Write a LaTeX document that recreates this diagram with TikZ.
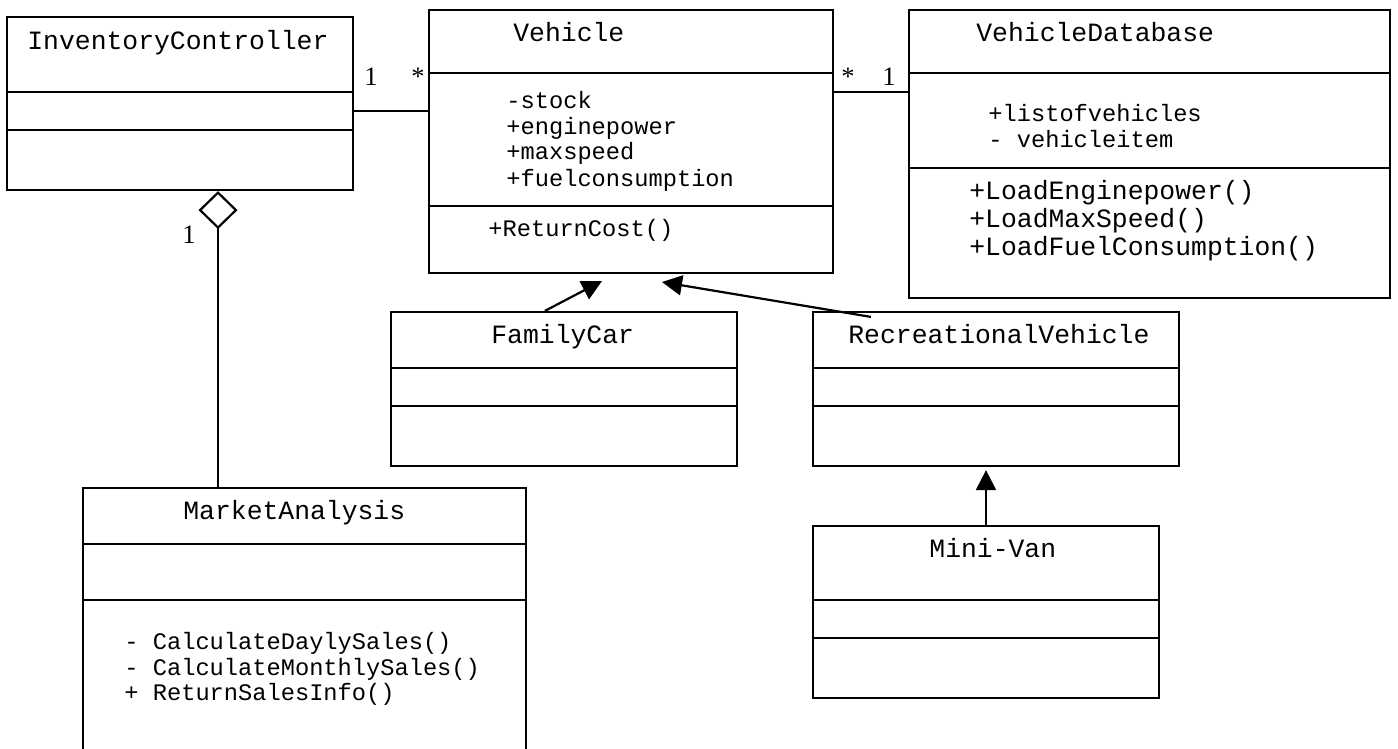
\documentclass[tikz,border=0pt]{standalone}
\usepackage{fontspec}
\setmainfont{Liberation Serif}
\setmonofont{Liberation Mono}
\usetikzlibrary{arrows.meta,fit,calc}

\tikzset{
  umlbox/.style={draw, line width=1.1pt, inner sep=0pt},
  sep/.style={line width=1.1pt},
  conn/.style={line width=1.1pt},
  inherit/.style={conn, -{Triangle[length=10pt,width=10pt]}},
  aggr/.style={conn, -{Diamond[open,length=19pt,width=19.5pt]}},
  big/.style={font=\fontsize{13.2}{14.25}\selectfont\ttfamily, anchor=base west, inner sep=0pt},
  small/.style={font=\fontsize{11.85}{12.85}\selectfont\ttfamily, anchor=base west, inner sep=0pt},
  mult/.style={font=\fontsize{13.3}{14}\selectfont, anchor=base west, inner sep=0pt},
}

\begin{document}
\begin{tikzpicture}[x=0.5pt, y=-0.5pt]
\useasboundingbox (0,0) rectangle (1398,749);
\clip (0,0) rectangle (1398,749);
\fill[white] (0,0) rectangle (1398,749);

% InventoryController
\node[umlbox, fit={(7,17) (353,190)}] (ic) {};
\draw[sep] (ic.west |- 0,92) -- (ic.east |- 0,92);
\draw[sep] (ic.west |- 0,130) -- (ic.east |- 0,130);
\node[big] (icT) at (27,50) {InventoryController};

% Vehicle
\node[umlbox, fit={(429,10) (833,273)}] (veh) {};
\draw[sep] (veh.west |- 0,73) -- (veh.east |- 0,73);
\draw[sep] (veh.west |- 0,206) -- (veh.east |- 0,206);
\node[big] (vehT) at (513,42) {Vehicle};
\node[small] (vehA1) at (506,109) {-stock};
\node[small] (vehA2) at (506,134.5) {+enginepower};
\node[small] (vehA3) at (506,160) {+maxspeed};
\node[small] (vehA4) at (506,186) {+fuelconsumption};
\node[small] (vehM1) at (488,236) {+ReturnCost()};

% VehicleDatabase
\node[umlbox, fit={(909,10) (1390,298)}] (db) {};
\draw[sep] (db.west |- 0,73) -- (db.east |- 0,73);
\draw[sep] (db.west |- 0,168) -- (db.east |- 0,168);
\node[big] (dbT) at (976,42) {VehicleDatabase};
\node[small] (dbA1) at (988,122) {+listofvehicles};
\node[small] (dbA2) at (988,148) {- vehicleitem};
\node[big] (dbM1) at (969,199) {+LoadEnginepower()};
\node[big] (dbM2) at (969,227.5) {+LoadMaxSpeed()};
\node[big] (dbM3) at (969,256) {+LoadFuelConsumption()};

% FamilyCar
\node[umlbox, fit={(391,312) (737,466)}] (fc) {};
\draw[sep] (fc.west |- 0,368) -- (fc.east |- 0,368);
\draw[sep] (fc.west |- 0,406) -- (fc.east |- 0,406);
\node[big] (fcT) at (491,343) {FamilyCar};

% RecreationalVehicle
\node[umlbox, fit={(813,312) (1179,466)}] (rv) {};
\draw[sep] (rv.west |- 0,368) -- (rv.east |- 0,368);
\draw[sep] (rv.west |- 0,406) -- (rv.east |- 0,406);
\node[big] (rvT) at (848,343) {RecreationalVehicle};

% Mini-Van
\node[umlbox, fit={(813,526) (1159,698)}] (mv) {};
\draw[sep] (mv.west |- 0,600) -- (mv.east |- 0,600);
\draw[sep] (mv.west |- 0,638) -- (mv.east |- 0,638);
\node[big] (mvT) at (929,557) {Mini-Van};

% MarketAnalysis (runs past the lower edge)
\node[umlbox, fit={(83,488) (526,770)}] (ma) {};
\draw[sep] (ma.west |- 0,544) -- (ma.east |- 0,544);
\draw[sep] (ma.west |- 0,600) -- (ma.east |- 0,600);
\node[big] (maT) at (183,519) {MarketAnalysis};
\node[small] (maM1) at (124,649) {- CalculateDaylySales()};
\node[small] (maM2) at (124,675) {- CalculateMonthlySales()};
\node[small] (maM3) at (124,700) {+ ReturnSalesInfo()};

% associations
\draw[conn] (ic.east |- 0,111) -- (veh.west |- 0,111);
\draw[conn] (veh.east |- 0,92) -- (db.west |- 0,92);
\node[mult] (m1) at (364,86) {1};
\node[mult] (m2) at (411,86) {*};
\node[mult] (m3) at (841,86) {*};
\node[mult] (m4) at (882,86) {1};

% aggregation
\draw[aggr] (218,0 |- ma.north) -- (218,0 |- ic.south);
\node[mult] (m5) at (182,243) {1};

% generalisations
\coordinate (fcTip) at (602,281);
\coordinate (rvTip) at (662,282);
\draw[inherit] ($(fc.north west)+(155,0)$) -- (fcTip);
\draw[inherit] ($(rv.north west)+(59,6)$) -- (rvTip);
\draw[inherit] (mv.north) -- ($(mv.north |- rv.south)+(0,3)$);
\end{tikzpicture}
\end{document}
